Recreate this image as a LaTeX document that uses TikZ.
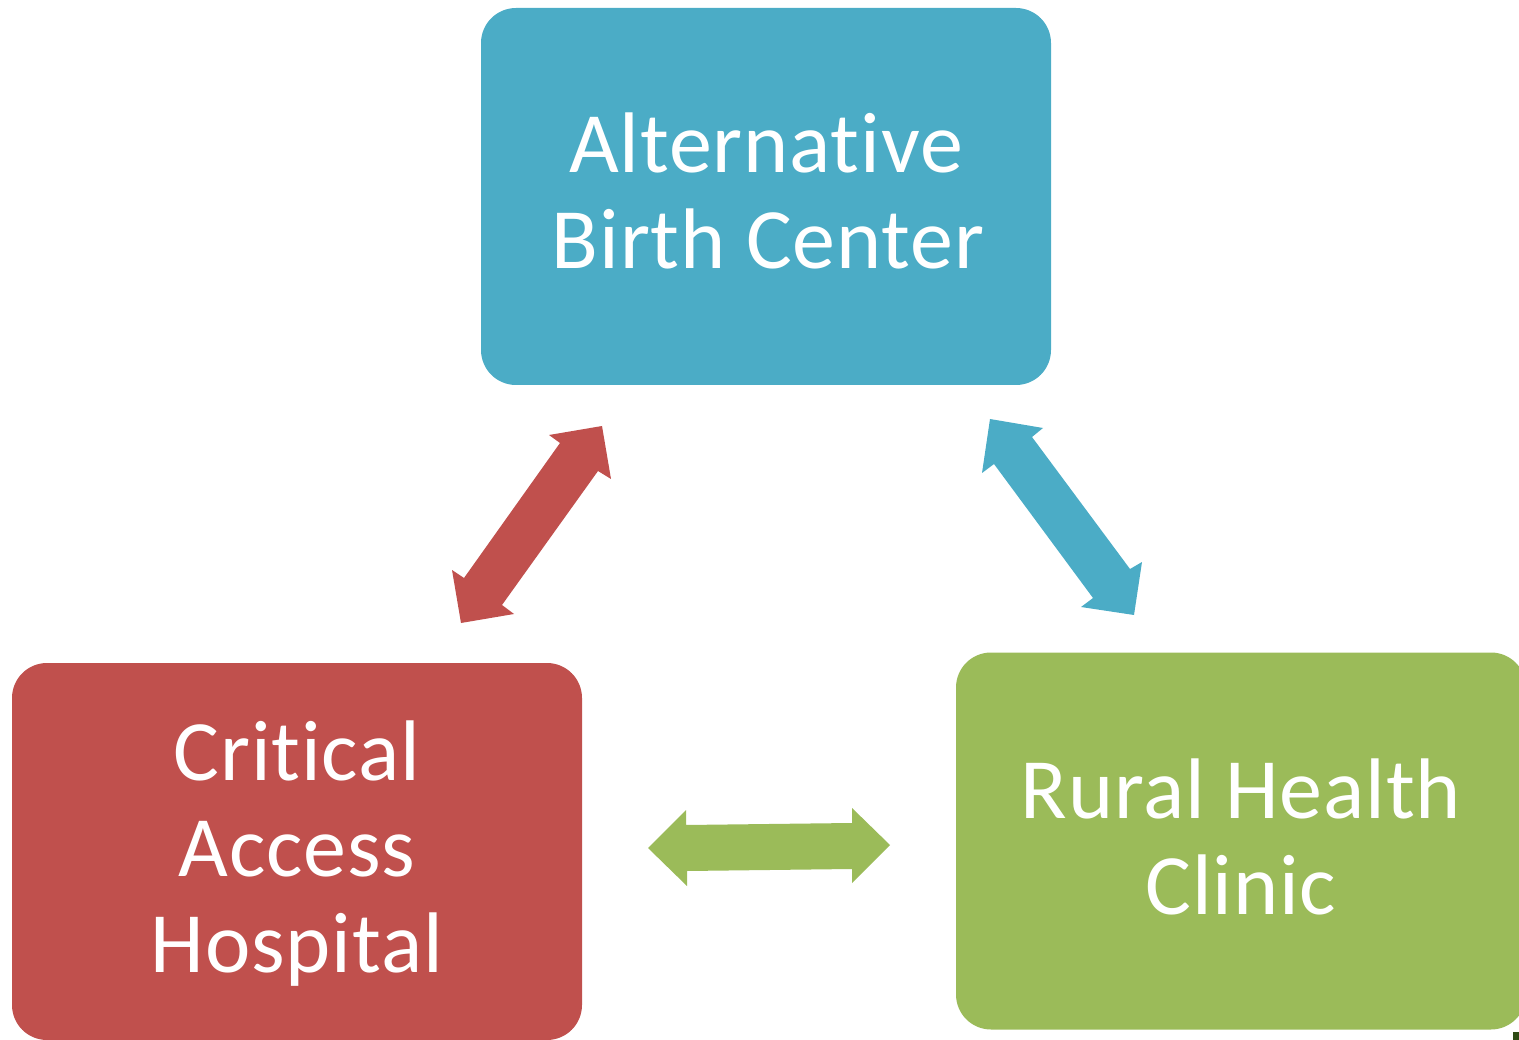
\documentclass[tikz,border=0pt]{standalone}
\usepackage{fontspec}
\setmainfont{Carlito}[Ligatures={NoCommon},LetterSpace=1.0]
\definecolor{cblue}{HTML}{4BACC6}
\definecolor{cred}{HTML}{C0504D}
\definecolor{cgreen}{HTML}{9BBB59}
\definecolor{cdark}{HTML}{2E4A14}
\begin{document}
\begin{tikzpicture}[x=1pt,y=-1pt,
  box/.style={draw=none,rounded corners=35pt,inner sep=0pt,minimum width=570pt,minimum height=377pt},
  lbl/.style={text=white,anchor=base,inner sep=0pt,font=\fontsize{86}{96}\selectfont}]
\useasboundingbox (0,0) rectangle (1519,1040);
% boxes
\node[box,fill=cblue]  (abc) at (766,196.5) {};
\node[box,fill=cred]   (cah) at (297,851.5) {};
\node[box,fill=cgreen] (rhc) at (1241,841) {};
% labels
\node[lbl] (abc1) at (766,173) {Alternative};
\node[lbl] (abc2) at (768,269) {Birth Center};
\node[lbl] (cah1) at (297,780) {Critical};
\node[lbl] (cah2) at (297,876) {Access};
\node[lbl] (cah3) at (297,972) {Hospital};
\node[lbl] (rhc1) at (1241,818) {Rural Health};
\node[lbl] (rhc2) at (1241,914) {Clinic};
% block arrows
\fill[cred] (602,426) -- (611,479) -- (598,471) -- (502,605) -- (514,614) -- (461,623)
  -- (452,570) -- (464,578) -- (560,443) -- (549,435) -- cycle;
\fill[cblue] (990,419) -- (1043,428) -- (1032,437) -- (1130,569) -- (1142,562) -- (1134,615)
  -- (1081,607) -- (1093,598) -- (994,464) -- (982,473) -- cycle;
\fill[cgreen] (648,848) -- (686,810) -- (686,825) -- (852,823) -- (852,808) -- (890,845)
  -- (852,883) -- (852,869) -- (687,871) -- (687,886) -- cycle;
% small mark
\fill[cdark] (1513,1032) rectangle (1519,1040);
\end{tikzpicture}
\end{document}
